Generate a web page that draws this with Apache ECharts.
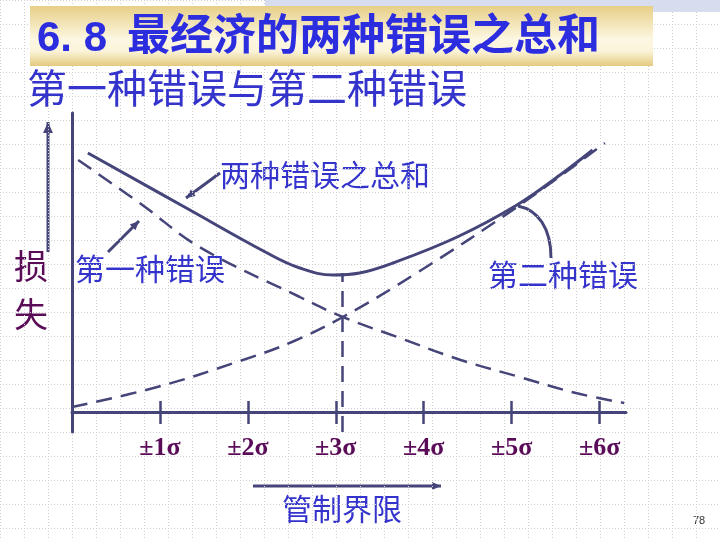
<!DOCTYPE html>
<html>
<head>
<meta charset="utf-8">
<script src="https://cdn.jsdelivr.net/npm/echarts@6/dist/echarts.min.js"></script>
<style>
  html, body { margin: 0; padding: 0; background: #ffffff; }
  #chart { width: 720px; height: 540px; }
</style>
</head>
<body>
<div id="chart"></div>
<script>
// 数据：横轴为控制界限(σ)，纵轴为损失（相对单位）
var sigmaTicks = [1, 2, 3, 4, 5, 6];
var typeOneError = [[0.07, 252], [0.80, 207], [1.45, 165], [2.59, 115], [3.08, 95], [3.73, 74], [4.42, 52], [5.09, 35], [5.73, 19], [6.28, 9]];
var typeTwoError = [[0.00, 5], [0.97, 25], [1.91, 51], [2.50, 70], [3.08, 95], [3.92, 139], [5.06, 205], [6.06, 269]];
var totalError = [[0.18, 259], [1.30, 204], [2.22, 159], [2.59, 144], [2.97, 137], [3.27, 139], [3.65, 149], [4.38, 175], [5.06, 207], [5.55, 237], [5.92, 262]];
var bestLimit = 3.07;
var bestLoss = 139;

var lineColor = '#45457a';
var blue = '#3434cc';
var purple = '#5a0c58';
var cjk = '"Noto Sans CJK SC", sans-serif';

var chart = echarts.init(document.getElementById('chart'));

// 箭头
function arrow(x1, y1, x2, y2, size) {
    var a = Math.atan2(y2 - y1, x2 - x1);
    var s = size || 9;
    return {
        type: 'group',
        silent: true,
        children: [
            { type: 'line', shape: { x1: x1, y1: y1, x2: x2, y2: y2 }, style: { stroke: lineColor, lineWidth: 3 } },
            { type: 'polygon', shape: { points: [
                [x2, y2],
                [x2 - s * Math.cos(a) + s * 0.45 * Math.sin(a), y2 - s * Math.sin(a) - s * 0.45 * Math.cos(a)],
                [x2 - s * Math.cos(a) - s * 0.45 * Math.sin(a), y2 - s * Math.sin(a) + s * 0.45 * Math.cos(a)]
            ] }, style: { fill: lineColor } }
        ]
    };
}

// 文字标注，y 为字形中心
function label(text, x, y, size, color, extra) {
    var st = { text: text, fill: color, font: (extra || '') + ' ' + size + 'px ' + cjk };
    return { type: 'text', left: x, top: y - size * 0.53, silent: true, style: st };
}

var option = {
    animation: false,
    backgroundColor: '#ffffff',
    grid: [
        { left: 0, top: 0, right: 0, bottom: 0 },
        { left: 72, top: 113, right: 94, bottom: 108 }
    ],
    xAxis: [
        {
            gridIndex: 0, type: 'value', min: 0, max: 720, interval: 24,
            axisLine: { show: false }, axisTick: { show: false }, axisLabel: { show: false },
            splitLine: { show: true, lineStyle: { color: '#cfcfcf', type: [1, 2], width: 1 } }
        },
        {
            gridIndex: 1, type: 'value', min: 0, max: 6.3, position: 'bottom', offset: -20,
            axisLine: { onZero: false, lineStyle: { color: lineColor, width: 3 } },
            axisTick: { show: true, customValues: sigmaTicks, length: 12, lineStyle: { color: lineColor, width: 2.5 } },
            axisLabel: {
                customValues: sigmaTicks, margin: 23,
                formatter: function (v) { return '\u00b1' + v + '\u03c3'; },
                color: purple, fontSize: 26, fontWeight: 'bold', fontFamily: '"Liberation Serif", serif'
            },
            splitLine: { show: false }
        },
        {
            gridIndex: 1, type: 'value', min: 0, max: 6.3, position: 'bottom', offset: -20,
            axisLine: { onZero: false, show: false },
            axisTick: { show: true, inside: true, customValues: sigmaTicks, length: 11, lineStyle: { color: lineColor, width: 2.5 } },
            axisLabel: { show: false },
            splitLine: { show: false }
        }
    ],
    yAxis: [
        {
            gridIndex: 0, type: 'value', min: 0, max: 540, interval: 24, inverse: true,
            axisLine: { show: false }, axisTick: { show: false }, axisLabel: { show: false },
            splitLine: { show: true, lineStyle: { color: '#cfcfcf', type: [1, 2], width: 1 } }
        },
        {
            gridIndex: 1, type: 'value', min: -20, max: 299,
            axisLine: { show: true, onZero: false, lineStyle: { color: lineColor, width: 3 } },
            axisTick: { show: false }, axisLabel: { show: false }, splitLine: { show: false }
        }
    ],
    series: [
        {
            name: '第一种错误', type: 'line', xAxisIndex: 1, yAxisIndex: 1,
            data: typeOneError, smooth: 0.4, showSymbol: false, silent: true,
            lineStyle: { color: lineColor, width: 2.5, type: [16, 9] }
        },
        {
            name: '第二种错误', type: 'line', xAxisIndex: 1, yAxisIndex: 1,
            data: typeTwoError, smooth: 0.4, showSymbol: false, silent: true,
            lineStyle: { color: lineColor, width: 2.5, type: [16, 9] }
        },
        {
            name: '两种错误之总和', type: 'line', xAxisIndex: 1, yAxisIndex: 1,
            data: totalError, smooth: 0.4, showSymbol: false, silent: true,
            lineStyle: { color: lineColor, width: 3 },
            markLine: {
                silent: true, symbol: 'none', label: { show: false },
                lineStyle: { color: lineColor, width: 2.5, type: [16, 9] },
                data: [[{ coord: [bestLimit, -20] }, { coord: [bestLimit, bestLoss] }]]
            }
        }
    ],
    graphic: [
        // 右上角淡蓝色纹理条
        { type: 'rect', shape: { x: 265, y: 0, width: 455, height: 12 }, style: { fill: '#d6ddef' }, silent: true, z: 1 },
        // 标题底色
        {
            type: 'rect', shape: { x: 30, y: 6, width: 623, height: 60 }, silent: true, z: 2,
            style: { fill: new echarts.graphic.LinearGradient(0, 0, 0, 1, [
                { offset: 0, color: '#e7cf86' },
                { offset: 0.55, color: '#fcf7e2' },
                { offset: 0.75, color: '#fbf4da' },
                { offset: 1, color: '#e3ca7e' }
            ]) }
        },
        { type: 'text', left: 37, top: 18, z: 3, silent: true,
          style: { text: '6. 8', fill: '#2d2de0', font: 'bold 42px "Liberation Sans", sans-serif' } },
        { type: 'text', left: 127, top: 12, z: 3, silent: true,
          style: { text: '最经济的两种错误之总和', fill: '#2d2de0', font: 'bold 43px ' + cjk } },
        { type: 'text', left: 27, top: 68, z: 3, silent: true,
          style: { text: '第一种错误与第二种错误', fill: blue, font: '40px ' + cjk } },
        label('损', 14, 267, 34, purple),
        label('失', 14, 315, 34, purple),
        label('两种错误之总和', 220, 175, 30, blue),
        label('第一种错误', 75, 269, 30, blue),
        label('第二种错误', 488, 275, 30, blue),
        label('管制界限', 282, 509, 30, blue),
        { type: 'text', left: 693, top: 515, silent: true, style: { text: '78', fill: '#333333', font: '11px sans-serif' } },
        arrow(48, 252, 48, 122, 11),
        arrow(220, 173, 186, 198),
        arrow(108, 252, 139, 221),
        arrow(253, 486, 441, 486),
        {
            type: 'bezierCurve', silent: true,
            shape: { x1: 551, y1: 258, cpx1: 551, cpy1: 228, cpx2: 538, cpy2: 210, x2: 518, y2: 206 },
            style: { stroke: lineColor, lineWidth: 3, fill: null }
        }
    ]
};
chart.setOption(option);
</script>
</body>
</html>
